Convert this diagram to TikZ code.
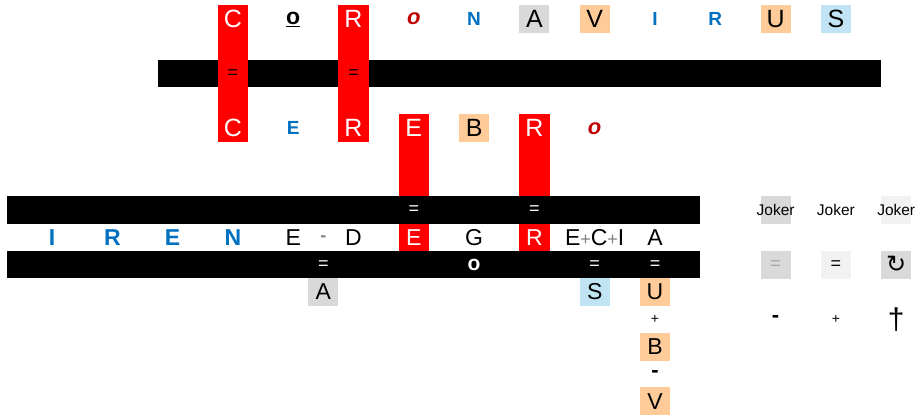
\documentclass[tikz,border=0pt]{standalone}
\usepackage{fontspec}
\setmainfont{Liberation Sans}
\newfontfamily\symfont{DejaVu Sans}
\usetikzlibrary{positioning}

\definecolor{wblue}{HTML}{0070C0}
\definecolor{wred}{HTML}{C00000}
\definecolor{wgray}{HTML}{D9D9D9}
\definecolor{wlight}{HTML}{F2F2F2}
\definecolor{worange}{HTML}{FFCC99}
\definecolor{wsky}{HTML}{C0E4F4}

\begin{document}
\begin{tikzpicture}[
  x=30.15pt, y=-27.3pt,
  cell/.style={minimum width=30pt, minimum height=28pt, inner sep=0pt,
    font=\fontsize{25}{25}\selectfont},
  low/.style={cell, font=\fontsize{23}{23}\selectfont},
  hit/.style={cell, fill=red, text=white},
  lowhit/.style={low, fill=red, text=white},
  grey/.style={cell, fill=wgray},
  orng/.style={cell, fill=worange},
  sky/.style={cell, fill=wsky},
  blu/.style={cell, text=wblue, font=\bfseries\fontsize{19}{19}\selectfont},
  lowblu/.style={cell, text=wblue, font=\bfseries\fontsize{23}{23}\selectfont},
  ital/.style={cell, text=wred, font=\bfseries\itshape\fontsize{22}{22}\selectfont},
  eq/.style={inner sep=0pt, font=\fontsize{18}{18}\selectfont},
  sign/.style={inner sep=0pt, font=\bfseries\fontsize{22}{22}\selectfont},
  joker/.style={cell, font=\fontsize{15.5}{15.5}\selectfont}
]
  \useasboundingbox (-1.725,-0.696) rectangle (28.69,14.54);

  % Bar under CORONAVIRUS
  \fill (3.5,1.5) rectangle (27.5,2.5);

  % CORONAVIRUS
  \node[hit] (c1) at (6,0) {C};
  \node[cell, font=\bfseries\fontsize{23}{23}\selectfont] (o1) at (8,0) {\underline{o}};
  \node[hit] (r1) at (10,0) {R};
  \node[ital] (o2) at (12,0) {o};
  \node[blu] (n1) at (14,0) {N};
  \node[grey] (a1) at (16,0) {A};
  \node[orng] (v1) at (18,0) {V};
  \node[blu] (i1) at (20,0) {I};
  \node[blu] (r2) at (22,0) {R};
  \node[orng] (u1) at (24,0) {U};
  \node[sky] (s1) at (26,0) {S};

  % CEREBRO
  \node[hit] (c2) at (6,4) {C};
  \node[blu] (e1) at (8,4) {E};
  \node[hit] (r3) at (10,4) {R};
  \node[hit] (e2) at (12,4) {E};
  \node[orng] (b1) at (14,4) {B};
  \node[hit] (r4) at (16,4) {R};
  \node[ital] (o3) at (18,4) {o};

  % Red columns
  \fill[red] (c1.north west) rectangle (c2.south east);
  \fill[red] (r1.north west) rectangle (r3.south east);
  \node[hit] at (c1) {C};
  \node[hit] at (r1) {R};
  \node[hit] at (c2) {C};
  \node[hit] at (r3) {R};
  \node[eq, text=black] (q1) at (6,2) {=};
  \node[eq, text=black] (q2) at (10,2) {=};

  % IRENE row
  \node[lowblu] (i2) at (0,8) {I};
  \node[lowblu] (r5) at (2,8) {R};
  \node[lowblu] (e3) at (4,8) {E};
  \node[lowblu] (n2) at (6,8) {N};
  \node[low] (e4) at (8,8) {E};
  \node[sign, text=gray, font=\bfseries\fontsize{18}{18}\selectfont] (m1) at (9,8.05) {-};
  \node[low] (d1) at (10,8) {D};
  \node[lowhit] (e5) at (12,8) {E};
  \node[low] (g1) at (14,8) {G};
  \node[lowhit] (r6) at (16,8) {R};
  \node[low] (eci) at (18,8) {E\textcolor{gray}{\fontsize{18}{18}\selectfont+}C\textcolor{gray}{\fontsize{18}{18}\selectfont+}I};
  \node[low] (a2) at (20,8) {A};

  \fill[red] (e2.north west) rectangle (e5.south east);
  \fill[red] (r4.north west) rectangle (r6.south east);
  \node[hit] at (e2) {E};
  \node[hit] at (r4) {R};
  \node[lowhit] at (e5) {E};
  \node[lowhit] at (r6) {R};

  % Bars round the IRENE row
  \fill (-1.5,6.5) rectangle (21.5,7.5);
  \fill (-1.5,8.5) rectangle (21.5,9.5);
  \node[eq, text=white] (q3) at (12,7) {=};
  \node[eq, text=white] (q4) at (16,7) {=};
  \node[eq, text=white] (q5) at (9,9) {=};
  \node[inner sep=0pt, text=white, font=\bfseries\fontsize{21}{21}\selectfont] (o4) at (14,9) {o};
  \node[eq, text=white] (q6) at (18,9) {=};
  \node[eq, text=white] (q7) at (20,9) {=};

  % Results
  \node[grey, font=\fontsize{23}{23}\selectfont] (a3) at (9,10) {A};
  \node[sky, font=\fontsize{23}{23}\selectfont] (s2) at (18,10) {S};
  \node[orng, font=\fontsize{23}{23}\selectfont] (u2) at (20,10) {U};
  \node[inner sep=0pt, font=\fontsize{14}{14}\selectfont] (p1) at (20,11) {+};
  \node[orng, font=\fontsize{23}{23}\selectfont] (b2) at (20,12) {B};
  \node[sign] (m2) at (20,13) {-};
  \node[orng, font=\fontsize{23}{23}\selectfont] (v2) at (20,14) {V};

  % Jokers
  \node[joker, fill=wgray] (j1) at (24,7) {\makebox[30pt]{Joker}};
  \node[joker] (j2) at (26,7) {\makebox[30pt]{Joker}};
  \node[joker, fill=wlight] (j3) at (28,7) {\makebox[30pt]{Joker}};
  \node[cell, fill=wgray, text=gray!70, font=\fontsize{18}{18}\selectfont] (k1) at (24,9) {=};
  \node[cell, fill=wlight, font=\fontsize{18}{18}\selectfont] (k2) at (26,9) {=};
  \node[cell, fill=wgray, font=\symfont\fontsize{24}{24}\selectfont] (k3) at (28,9) {↻};
  \node[sign] (l1) at (24,11) {-};
  \node[inner sep=0pt, font=\fontsize{14}{14}\selectfont] (l2) at (26,11) {+};
  \node[inner sep=0pt, font=\fontsize{30}{30}\selectfont] (l3) at (28,11) {†};
\end{tikzpicture}
\end{document}
